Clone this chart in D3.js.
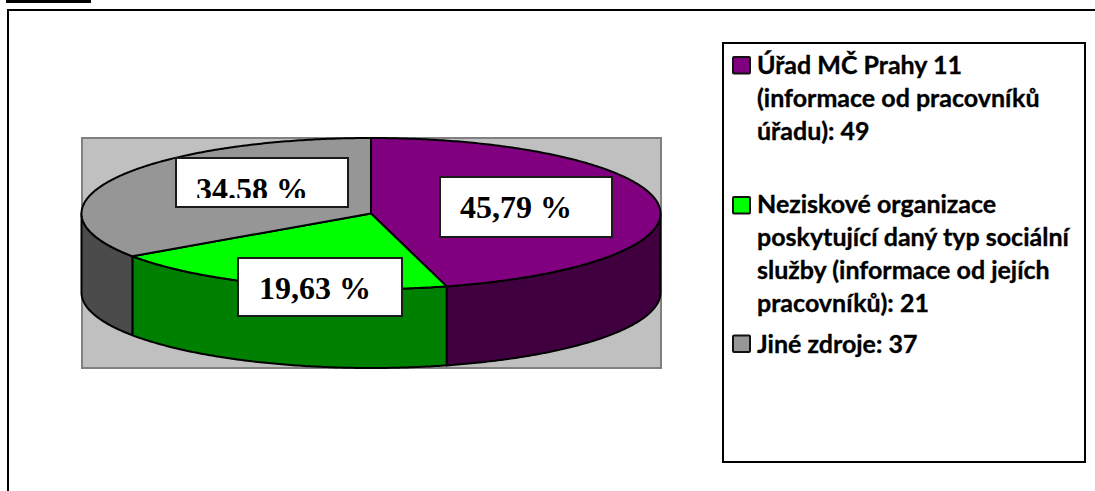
<!DOCTYPE html>
<html><head><meta charset="utf-8">
<script src="https://cdn.jsdelivr.net/npm/d3@7"></script>
<style>html,body{margin:0;padding:0;background:#fff;overflow:hidden}svg{display:block}</style>
</head><body><div id="chart"></div>
<script>
const categories = ["Úřad MČ Prahy 11 (informace od pracovníků úřadu)", "Neziskové organizace poskytující daný typ sociální služby (informace od jejích pracovníků)", "Jiné zdroje"];
const counts = [49, 21, 37];
const percentLabels = ["45,79 %", "19,63 %", "34.58 %"];
const topColors = ["#800080", "#00ff00", "#969696"];
const sideColors = ["#400040", "#008000", "#4b4b4b"];
const legendLines = [
  ["Úřad MČ Prahy 11", "(informace od pracovníků", "úřadu): 49"],
  ["Neziskové organizace", "poskytující daný typ sociální", "služby (informace od jejích", "pracovníků): 21"],
  ["Jiné zdroje: 37"]
];

const W = 1095, H = 491;
const svg = d3.select("#chart").append("svg").attr("width", W).attr("height", H);
svg.append("rect").attr("width", W).attr("height", H).attr("fill", "#fff");

// page frame fragments
svg.append("rect").attr("x", 6).attr("y", 0).attr("width", 85).attr("height", 3).attr("fill", "#000");
svg.append("path").attr("d", "M8,491V10H1095").attr("fill", "none").attr("stroke", "#000").attr("stroke-width", 2);

// plot background
svg.append("rect").attr("x", 82).attr("y", 138).attr("width", 579).attr("height", 230)
  .attr("fill", "#c0c0c0").attr("stroke", "#808080").attr("stroke-width", 2);

const cx = 371, cy = 213.5, rx = 289.5, ry = 75.5, depth = 79;
const xs = d3.scaleLinear().domain([-1, 1]).range([cx - rx, cx + rx]);
const ys = d3.scaleLinear().domain([-1, 1]).range([cy - ry, cy + ry]);
const pie = d3.pie().sort(null).value(d => d)(counts);

const edgePoint = a => [xs(Math.sin(a)), ys(-Math.cos(a))];
const line = d3.line();

function arcPoints(a0, a1) {
  const n = Math.max(2, Math.ceil(Math.abs(a1 - a0) / 0.01));
  const pts = [];
  for (let i = 0; i <= n; i++) pts.push(edgePoint(a0 + (a1 - a0) * i / n));
  return pts;
}

// side wall: only the front half (angles from PI/2 to 3PI/2)
const lo = Math.PI / 2, hi = 3 * Math.PI / 2;
const chart = svg.append("g").attr("stroke", "#000").attr("stroke-width", 2).attr("stroke-linejoin", "round");
pie.forEach((s, i) => {
  const a0 = Math.max(s.startAngle, lo), a1 = Math.min(s.endAngle, hi);
  if (a1 <= a0) return;
  const top = arcPoints(a0, a1);
  const bottom = top.slice().reverse().map(p => [p[0], p[1] + depth]);
  chart.append("path").attr("d", line(top.concat(bottom)) + "Z").attr("fill", sideColors[i]);
});
// top faces
pie.forEach((s, i) => {
  const pts = [[cx, cy]].concat(arcPoints(s.startAngle, s.endAngle));
  chart.append("path").attr("d", line(pts) + "Z").attr("fill", topColors[i]);
});

// percentage label boxes
const labelBoxes = [
  {x: 440, y: 177, w: 172, h: 60, tx: 460, ty: 218},
  {x: 238, y: 258, w: 164, h: 58, tx: 259, ty: 299},
  {x: 176, y: 158, w: 172, h: 49, tx: 196, ty: 199.5, clip: 198}
];
const defs = svg.append("defs");
labelBoxes.forEach((b, i) => {
  svg.append("rect").attr("x", b.x).attr("y", b.y).attr("width", b.w).attr("height", b.h)
    .attr("fill", "#fff").attr("stroke", "#1a1a1a").attr("stroke-width", 2);
  const t = svg.append("text").attr("x", b.tx).attr("y", b.ty)
    .attr("font-family", "'Liberation Serif'").attr("font-weight", "bold").attr("font-size", 32)
    .attr("fill", "#000").text(percentLabels[i]);
  if (b.clip) {
    defs.append("clipPath").attr("id", "lc" + i).append("rect")
      .attr("x", b.x).attr("y", b.y).attr("width", b.w).attr("height", b.clip - b.y);
    t.attr("clip-path", `url(#lc${i})`);
  }
});

// legend
svg.append("rect").attr("x", 723).attr("y", 43).attr("width", 362).attr("height", 419)
  .attr("fill", "#fff").attr("stroke", "#000").attr("stroke-width", 2);
const swatchY = [57, 197, 335.5];
const baselines = [[74, 107, 140], [213, 246, 279, 312], [353]];
legendLines.forEach((lines, i) => {
  svg.append("rect").attr("x", 733).attr("y", swatchY[i]).attr("width", 17).attr("height", 16.5).attr("rx", 1)
    .attr("fill", topColors[i]).attr("stroke", "#111").attr("stroke-width", 2);
  lines.forEach((l, j) => {
    svg.append("text").attr("x", 757).attr("y", baselines[i][j])
      .attr("font-family", "Lato").attr("font-weight", "bold").attr("font-size", 25)
      .attr("stroke", "#000").attr("stroke-width", 0.35)
      .attr("fill", "#000").text(l);
  });
});
</script></body></html>
